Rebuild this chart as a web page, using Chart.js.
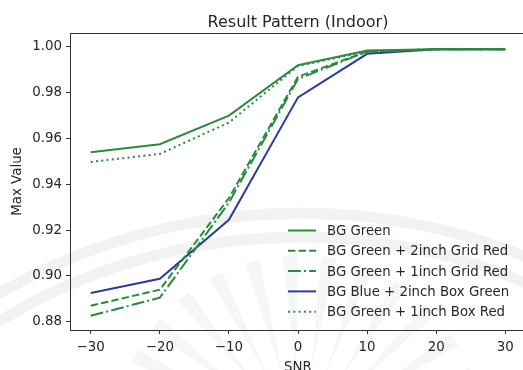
<!DOCTYPE html>
<html>
<head>
<meta charset="utf-8">
<script src="https://cdn.jsdelivr.net/npm/chart.js@4.4.1/dist/chart.umd.min.js"></script>
<style>
    html, body { margin: 0; padding: 0; background: #fff; overflow: hidden; }
    #wrap { width: 530px; height: 380px; }
</style>
</head>
<body>
<div id="wrap"><canvas id="resultChart" width="530" height="380"></canvas></div>
<script>
// SNR steps on the x axis
var snr = [-30, -20, -10, 0, 10, 20, 30];

// max value per background / pattern combination
var bgGreen         = [0.954, 0.9575, 0.970, 0.992, 0.9985, 0.999, 0.999];
var gridRed2inch    = [0.887, 0.894, 0.934, 0.987, 0.998, 0.999, 0.999];
var gridRed1inch    = [0.8826, 0.8905, 0.932, 0.986, 0.998, 0.999, 0.999];
var boxGreen2inch   = [0.8926, 0.8988, 0.9245, 0.978, 0.997, 0.999, 0.999];
var boxRed1inch     = [0.9498, 0.9533, 0.967, 0.9917, 0.998, 0.999, 0.999];

var seriesNames = [
    'BG Green',
    'BG Green + 2inch Grid Red',
    'BG Green + 1inch Grid Red',
    'BG Blue + 2inch Box Green',
    'BG Green + 1inch Box Red'
];

var xTicks = [-30, -20, -10, 0, 10, 20, 30];
var yTicks = [0.88, 0.90, 0.92, 0.94, 0.96, 0.98, 1.00];

var GREEN = '#2a8a3e';
var BLUE = '#2b3d9c';
var FONT = "'DejaVu Sans', sans-serif";

function toPoints(values) {
    var pts = [];
    for (var i = 0; i < snr.length; i++) {
        pts.push({x: snr[i], y: values[i]});
    }
    return pts;
}

function makeSet(label, values, color, dash) {
    return {
        label: label,
        data: toPoints(values),
        borderColor: color,
        backgroundColor: color,
        borderWidth: 2,
        borderDash: dash,
        pointRadius: 0,
        fill: false,
        tension: 0
    };
}

// faint emblem behind the plot
var watermark = {
    id: 'watermark',
    beforeDraw: function (chart) {
        var ctx = chart.ctx;
        ctx.save();
        ctx.strokeStyle = 'rgba(0,0,0,0.05)';
        ctx.lineWidth = 11;
        ctx.beginPath();
        ctx.arc(300, 815, 602, Math.PI * 1.05, Math.PI * 1.95);
        ctx.stroke();
        ctx.beginPath();
        ctx.arc(300, 815, 578, Math.PI * 1.05, Math.PI * 1.95);
        ctx.stroke();
        ctx.fillStyle = 'rgba(0,0,0,0.035)';
        for (var a = -165; a <= -15; a += 12) {
            var r = a * Math.PI / 180;
            var cx = 300, cy = 440;
            var r0 = 70, r1 = 185;
            var w = 0.04;
            ctx.beginPath();
            ctx.moveTo(cx + r0 * Math.cos(r), cy + r0 * Math.sin(r));
            ctx.lineTo(cx + r1 * Math.cos(r - w), cy + r1 * Math.sin(r - w));
            ctx.lineTo(cx + r1 * Math.cos(r + w), cy + r1 * Math.sin(r + w));
            ctx.closePath();
            ctx.fill();
        }
        ctx.restore();
    }
};

// title, top/right spines and the legend box in the lower right corner
var decorations = {
    id: 'decorations',
    afterDraw: function (chart) {
        var ctx = chart.ctx;
        var area = chart.chartArea;
        ctx.save();
        ctx.strokeStyle = '#333';
        ctx.lineWidth = 1;
        ctx.beginPath();
        ctx.moveTo(area.left, area.top + 0.5);
        ctx.lineTo(area.right, area.top + 0.5);
        ctx.lineTo(area.right, area.bottom);
        ctx.stroke();

        ctx.fillStyle = '#262626';
        ctx.font = '16px ' + FONT;
        ctx.textAlign = 'center';
        ctx.textBaseline = 'alphabetic';
        ctx.fillText('Result Pattern (Indoor)', (area.left + area.right) / 2, 26.5);

        var x0 = area.right - 238;
        var y0 = area.bottom - 99.5;
        ctx.font = '13.3px ' + FONT;
        ctx.textAlign = 'left';
        ctx.textBaseline = 'middle';
        chart.data.datasets.forEach(function (ds, i) {
            var y = y0 + i * 20.3;
            ctx.strokeStyle = ds.borderColor;
            ctx.lineWidth = ds.borderWidth;
            ctx.setLineDash(ds.borderDash || []);
            ctx.beginPath();
            ctx.moveTo(x0, y);
            ctx.lineTo(x0 + 28, y);
            ctx.stroke();
            ctx.setLineDash([]);
            ctx.fillStyle = '#262626';
            ctx.fillText(ds.label, x0 + 39, y + 1);
        });
        ctx.restore();
    }
};

function tickText(v) {
    return v < 0 ? '\u2212' + Math.abs(v) : String(v);
}

var ctx = document.getElementById('resultChart');

var resultChart = new Chart(ctx, {
    type: 'line',
    data: {
        datasets: [
            makeSet(seriesNames[0], bgGreen, GREEN, []),
            makeSet(seriesNames[1], gridRed2inch, GREEN, [7.4, 3.2]),
            makeSet(seriesNames[2], gridRed1inch, GREEN, [12.8, 3.2, 2, 3.2]),
            makeSet(seriesNames[3], boxGreen2inch, BLUE, []),
            makeSet(seriesNames[4], boxRed1inch, GREEN, [2, 3.3])
        ]
    },
    options: {
        responsive: false,
        animation: false,
        devicePixelRatio: 1,
        layout: {padding: {top: 33, right: 4, left: 0, bottom: 0}},
        plugins: {
            legend: {display: false},
            title: {display: false},
            tooltip: {enabled: false}
        },
        scales: {
            x: {
                type: 'linear',
                min: -33,
                max: 33,
                afterBuildTicks: function (axis) {
                    axis.ticks = xTicks.map(function (v) { return {value: v}; });
                },
                afterFit: function (axis) { axis.height = 50; },
                grid: {drawOnChartArea: false, drawTicks: true, tickLength: 4, color: '#333'},
                border: {display: true, color: '#333', width: 1},
                ticks: {
                    padding: 5,
                    autoSkip: false,
                    maxRotation: 0,
                    color: '#262626',
                    font: {family: FONT, size: 13.4},
                    callback: function (v) { return tickText(v); }
                },
                title: {
                    display: true,
                    text: 'SNR',
                    color: '#262626',
                    font: {family: FONT, size: 13.4},
                    padding: {top: 0, bottom: 4}
                }
            },
            y: {
                type: 'linear',
                min: 0.8764,
                max: 1.0061,
                afterBuildTicks: function (axis) {
                    axis.ticks = yTicks.map(function (v) { return {value: v}; });
                },
                afterFit: function (axis) { axis.width = 70; },
                grid: {drawOnChartArea: false, drawTicks: true, tickLength: 4, color: '#333'},
                border: {display: true, color: '#333', width: 1},
                ticks: {
                    padding: 4,
                    color: '#262626',
                    font: {family: FONT, size: 13.4},
                    callback: function (v) { return v.toFixed(2); }
                },
                title: {
                    display: true,
                    text: 'Max Value',
                    color: '#262626',
                    font: {family: FONT, size: 13.4},
                    padding: {top: 9.5, bottom: 0}
                }
            }
        }
    },
    plugins: [watermark, decorations]
});
</script>
</body>
</html>
